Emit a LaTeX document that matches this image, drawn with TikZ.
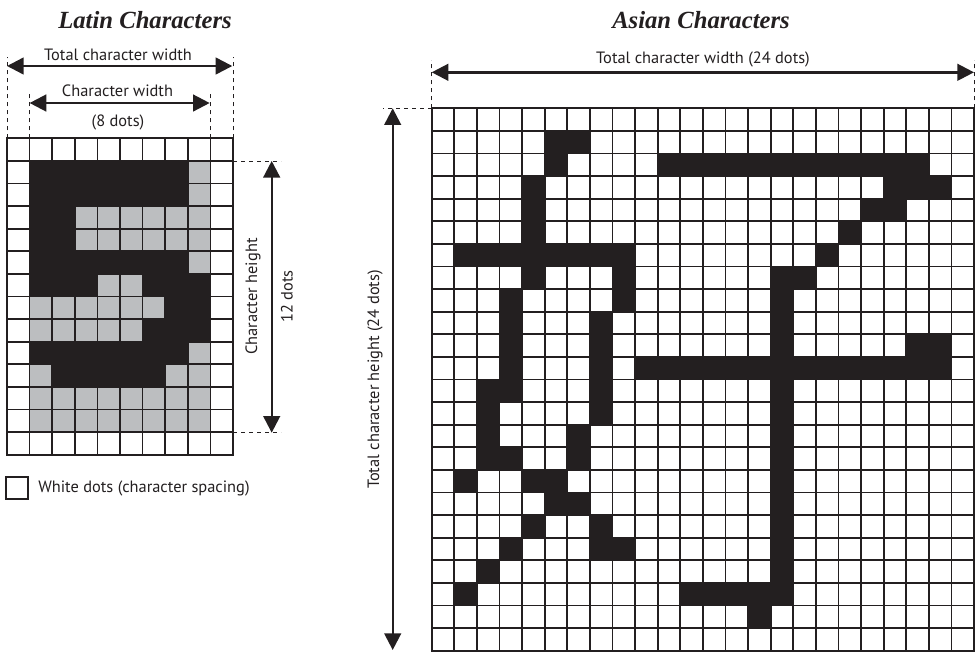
\documentclass[tikz,border=0pt]{standalone}
\usepackage{fontspec}
\setmainfont{PT Sans}
\newfontfamily\titlefont{Liberation Serif}
\usetikzlibrary{arrows.meta}

\definecolor{dotblack}{HTML}{231F20}
\definecolor{dotgray}{HTML}{BCBEC0}

\begin{document}
\begin{tikzpicture}[x=0.75pt, y=-0.75pt,
  gridline/.style={line width=1.3pt, color=dotblack},
  dimline/.style={line width=1.8pt, color=dotblack,
    {Triangle[length=12.5pt,width=12.5pt]}-{Triangle[length=12.5pt,width=12.5pt]}},
  guide/.style={line width=0.6pt, color=dotblack, dash pattern=on 3pt off 3pt},
  lbl/.style={font=\fontsize{12.3}{14}\selectfont, text=dotblack, inner sep=0pt},
  title/.style={font=\titlefont\bfseries\itshape\fontsize{18.5}{22}\selectfont, text=dotblack, inner sep=0pt}]
\useasboundingbox (0,0) rectangle (980,651);

% titles
\node[title] (lat-title) at (145,20) {Latin Characters};
\node[title] (asi-title) at (701,20) {Asian Characters};

% Latin character: 10 x 14 dots
\begin{scope}[shift={(7,138.3)}, x=16.95pt, y=-16.95pt]
  \fill[dotgray] (1,1) rectangle (9,13);
  \foreach \r/\a/\b in {1/1/7, 2/1/7, 3/1/2, 4/1/2, 5/1/7, 6/1/3, 6/6/8,
                        7/7/8, 8/6/8, 9/1/7, 10/2/6}
    \fill[dotblack] (\a,\r) rectangle (\b+1,\r+1);
  \foreach \i in {1,...,9} \draw[gridline] (\i,0) -- (\i,14);
  \foreach \j in {1,...,13} \draw[gridline] (0,\j) -- (10,\j);
  \draw[gridline] (0,0) rectangle (10,14);
  \coordinate (lat-tl) at (0,0);
  \coordinate (lat-tr) at (10,0);
  \coordinate (lat-c1) at (1,0);
  \coordinate (lat-c9) at (9,0);
  \coordinate (lat-r1) at (10,1);
  \coordinate (lat-r13) at (10,13);
\end{scope}

% Latin dimensions
\coordinate (tw-l) at (7,66);
\coordinate (tw-r) at (232.3,66);
\coordinate (cw-l) at (29.6,103);
\coordinate (cw-r) at (209.7,103);
\coordinate (ch-t) at (271.7,160.9);
\coordinate (ch-b) at (271.7,432.7);
\draw[guide] (lat-tl) -- ++(0,-81);
\draw[guide] (lat-tr) -- ++(0,-81);
\draw[guide] (lat-c1) -- ++(0,-48);
\draw[guide] (lat-c9) -- ++(0,-48);
\draw[guide] (lat-r1) -- ++(48,0);
\draw[guide] (lat-r13) -- ++(48,0);
\draw[dimline] (tw-l) -- (tw-r);
\draw[dimline] (cw-l) -- (cw-r);
\draw[dimline] (ch-t) -- (ch-b);
\node[lbl] (tw-text) at (118,54.5) {Total character width};
\node[lbl] (cw-text) at (117.5,90.5) {Character width};
\node[lbl] (cw-dots) at (118,122) {(8 dots)};
\node[lbl, rotate=90] (ch-text) at (253,296.5) {Character height};
\node[lbl, rotate=90] (ch-dots) at (287,296.5) {12 dots};

% legend
\draw[line width=0.8pt, color=dotblack] (6,477) rectangle (28,499);
\node[lbl, anchor=west] (legend) at (38,488.5) {White dots (character spacing)};

% Asian character: 24 x 24 dots
\begin{scope}[shift={(431.7,108.3)}, x=16.95pt, y=-16.95pt]
  \foreach \r/\a/\b in {1/5/6, 2/5/5, 2/10/21, 3/4/4, 3/20/22, 4/4/4, 4/19/20,
                        5/4/4, 5/18/18, 6/1/8, 6/17/17, 7/4/4, 7/8/8, 7/15/16,
                        8/3/3, 8/8/8, 9/3/3, 9/7/7, 10/3/3, 10/7/7, 10/21/22,
                        11/3/3, 11/7/7, 11/9/22, 12/2/3, 12/7/7, 13/2/2, 13/7/7,
                        14/2/2, 14/6/6, 15/2/3, 15/6/6, 16/1/1, 16/4/5, 17/5/6,
                        18/4/4, 18/7/7, 19/3/3, 19/7/8, 20/2/2, 21/1/1, 21/11/15,
                        22/14/14}
    \fill[dotblack] (\a,\r) rectangle (\b+1,\r+1);
  \fill[dotblack] (15,8) rectangle (16,21);
  \foreach \i in {1,...,23} \draw[gridline] (\i,0) -- (\i,24);
  \foreach \j in {1,...,23} \draw[gridline] (0,\j) -- (24,\j);
  \draw[gridline] (0,0) rectangle (24,24);
  \coordinate (asi-tl) at (0,0);
  \coordinate (asi-tr) at (24,0);
\end{scope}

% Asian dimensions
\coordinate (aw-l) at (431.7,72.3);
\coordinate (aw-r) at (974,72.3);
\coordinate (ah-t) at (392.7,108.3);
\coordinate (ah-b) at (392.7,650);
\draw[guide] (asi-tl) -- ++(0,-48);
\draw[guide] (asi-tr) -- ++(0,-48);
\draw[guide] (asi-tl) -- ++(-49,0);
\draw[dimline] (aw-l) -- (aw-r);
\draw[dimline] (ah-t) -- (ah-b);
\node[lbl] (aw-text) at (703,59.5) {Total character width (24 dots)};
\node[lbl, rotate=90] (ah-text) at (375,379.5) {Total character height (24 dots)};
\end{tikzpicture}
\end{document}
